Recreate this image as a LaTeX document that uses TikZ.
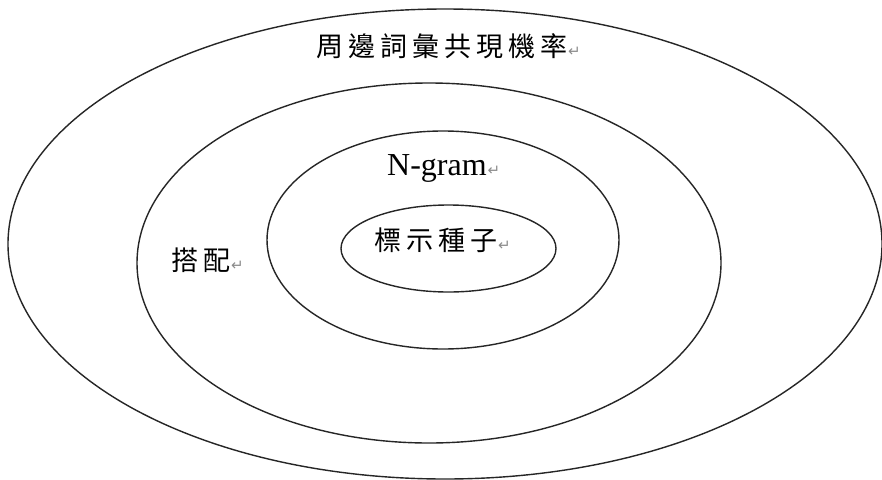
\documentclass[tikz,border=0pt]{standalone}
\usepackage{fontspec}
\setmainfont{Liberation Serif}
\newfontfamily\cjkf{Noto Sans CJK TC}
\newfontfamily\symf{DejaVu Sans}
\newcommand{\retmark}{{\symf\fontsize{15}{15}\selectfont\color{black!45}\hspace{1pt}↵}}
\newcommand{\cg}{\hspace{5pt}}
\begin{document}
\begin{tikzpicture}[x=1pt,y=-1pt,
  ring/.style={draw=black!85, line width=1.4pt},
  cjklbl/.style={anchor=west, inner sep=0pt, font=\cjkf\fontsize{27}{27}\selectfont},
  latlbl/.style={anchor=west, inner sep=0pt, font=\fontsize{32}{32}\selectfont}]
\useasboundingbox (0,0) rectangle (882,479);
\fill[white] (0,0) rectangle (882,479);
\draw[ring] (445,244) ellipse [x radius=437, y radius=235];
\draw[ring] (429,263) ellipse [x radius=292, y radius=180];
\draw[ring] (443,240) ellipse [x radius=176, y radius=109];
\draw[ring] (448.5,248.5) ellipse [x radius=107.5, y radius=43.5];
\node[cjklbl] (outer) at (316,46) {周\cg 邊\cg 詞\cg 彙\cg 共\cg 現\cg 機\cg 率\retmark};
\node[cjklbl] (coll) at (171,260) {搭\cg 配\retmark};
\node[latlbl] (ngram) at (387,168) {N-gram\retmark};
\node[cjklbl] (seed) at (374,240) {標\cg 示\cg 種\cg 子\retmark};
\end{tikzpicture}
\end{document}
